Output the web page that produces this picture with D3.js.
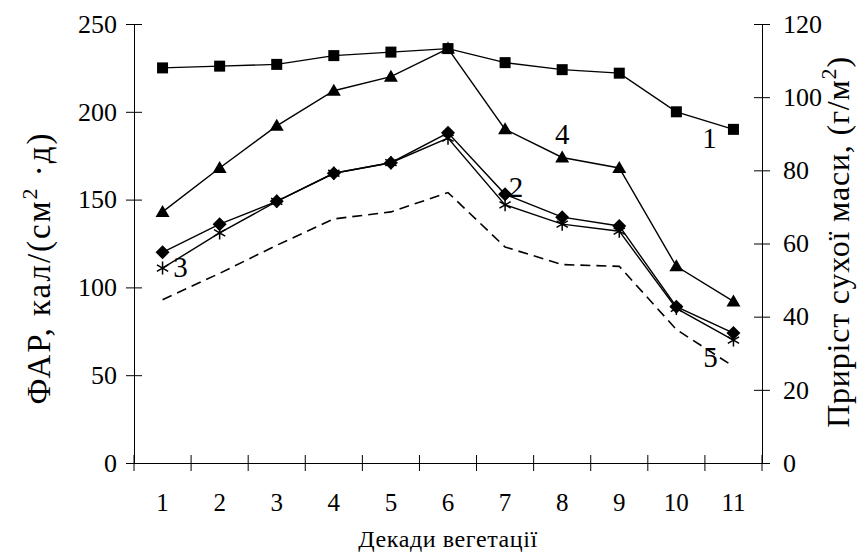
<!DOCTYPE html>
<html>
<head>
<meta charset="utf-8">
<script src="https://cdn.jsdelivr.net/npm/d3@7"></script>
<style>
  body { margin: 0; background: #fff; }
  svg { display: block; }
  svg text { font-family: "Liberation Serif", Tinos, "Times New Roman", Times, "DejaVu Serif", serif !important; fill: #000; }
</style>
</head>
<body>
<svg id="chart" width="858" height="553"></svg>
<script>
const categories = ["1","2","3","4","5","6","7","8","9","10","11"];
const leftTicks = [0, 50, 100, 150, 200, 250];
const rightTicks = [0, 20, 40, 60, 80, 100, 120];

const series1 = [225, 226, 227, 232, 234, 236, 228, 224, 222, 200, 190];   // squares
const series2 = [120, 136, 149, 165, 171, 188, 153, 140, 135, 89, 74];     // diamonds
const series3 = [111, 131, 149, 165, 171, 185, 147, 136, 132, 88, 70];     // asterisks
const series4 = [143, 168, 192, 212, 220, 236, 190, 174, 168, 112, 92];    // triangles
const series5 = [93, 108, 124, 139, 143, 154, 123, 113, 112, 76, 55];      // dashed

const svg = d3.select("#chart");
const mLeft = 134, mRight = 762, mTop = 24, mBottom = 463;
const FONT = "Liberation Serif, Times New Roman, serif";

const x = d3.scaleBand().domain(categories).range([mLeft, mRight]).padding(0);
const yL = d3.scaleLinear().domain([0, 250]).range([mBottom, mTop]);
const yR = d3.scaleLinear().domain([0, 120]).range([mBottom, mTop]);

const axisColor = "#000";

function styleAxis(g, fs) {
  g.attr("font-family", FONT).attr("font-size", fs);
  g.select(".domain").attr("stroke", axisColor);
  g.selectAll(".tick text").attr("font-size", fs).attr("fill", "#000");
}

// left axis
const gL = svg.append("g").attr("transform", `translate(${mLeft},0)`);
gL.call(d3.axisLeft(yL).tickValues(leftTicks).tickSize(0).tickPadding(17));
styleAxis(gL, 26);
gL.selectAll(".tick").append("line").attr("x1", -8).attr("x2", 8).attr("stroke", axisColor);

// right axis
const gR = svg.append("g").attr("transform", `translate(${mRight},0)`);
gR.call(d3.axisRight(yR).tickValues(rightTicks).tickSize(0).tickPadding(21));
styleAxis(gR, 26);
gR.selectAll(".tick").append("line").attr("x1", -8).attr("x2", 8).attr("stroke", axisColor);

// bottom axis
const gB = svg.append("g").attr("transform", `translate(0,${mBottom})`);
gB.call(d3.axisBottom(x).tickSize(0).tickPadding(30));
styleAxis(gB, 25);
const bounds = [mLeft].concat(categories.map(c => x(c) + x.bandwidth()));
gB.selectAll(".btick").data(bounds).enter().append("line")
  .attr("x1", d => d).attr("x2", d => d).attr("y1", -8).attr("y2", 8).attr("stroke", axisColor);

// Lines
const cx = i => x(categories[i]) + x.bandwidth() / 2;
const line = d3.line().x((d, i) => cx(i)).y(d => yL(d));
const plot = svg.append("g");

plot.append("path").datum(series5).attr("d", line).attr("fill", "none")
  .attr("stroke", "#000").attr("stroke-width", 1.6).attr("stroke-dasharray", "10,6");

[series1, series2, series3, series4].forEach(s => {
  plot.append("path").datum(s).attr("d", line).attr("fill", "none")
    .attr("stroke", "#000").attr("stroke-width", 1.4);
});

// squares
plot.selectAll(".sq").data(series1).enter().append("rect")
  .attr("x", (d, i) => cx(i) - 5.5).attr("y", d => yL(d) - 5.5)
  .attr("width", 11).attr("height", 11).attr("fill", "#000");

// diamonds
plot.selectAll(".dm").data(series2).enter().append("path")
  .attr("d", (d, i) => { const X = cx(i), Y = yL(d), r = 7; return `M${X},${Y-r}L${X+r},${Y}L${X},${Y+r}L${X-r},${Y}Z`; })
  .attr("fill", "#000");

// asterisks
plot.selectAll(".as").data(series3).enter().append("path")
  .attr("d", (d, i) => { const X = cx(i), Y = yL(d), r = 6.5;
    const a = r * 0.866, b = r * 0.5;
    return `M${X},${Y-r}L${X},${Y+r}M${X-a},${Y-b}L${X+a},${Y+b}M${X-a},${Y+b}L${X+a},${Y-b}`; })
  .attr("stroke", "#000").attr("stroke-width", 1.5).attr("fill", "none");

// triangles
plot.selectAll(".tr").data(series4).enter().append("path")
  .attr("d", (d, i) => { const X = cx(i), Y = yL(d); return `M${X},${Y-7}L${X+7},${Y+5}L${X-7},${Y+5}Z`; })
  .attr("fill", "#000");

// series labels
const lab = (t, xx, yy) => svg.append("text").attr("x", xx).attr("y", yy)
  .attr("font-family", FONT).attr("font-size", 29).attr("text-anchor", "middle").text(t);
lab("1", cx(10) - 24, yL(series1[10]) + 19);
lab("4", cx(7), yL(series4[7]) - 13);
lab("2", cx(6) + 11, yL(series2[6]) + 3);
lab("3", cx(0) + 18, yL(series3[0]) + 9);
lab("5", cx(10) - 23, yL(series5[10]) + 1);

// axis titles
const lt = svg.append("text").attr("transform", "translate(50,268) rotate(-90)")
  .attr("font-family", FONT).attr("text-anchor", "middle").attr("font-size", 33)
  .attr("letter-spacing", 2);
lt.append("tspan").text("ФАР, кал/(см");
lt.append("tspan").attr("dy", -13).attr("font-size", 22).text("2");
lt.append("tspan").attr("dy", 13).text(" ·д)");

const rt = svg.append("text").attr("transform", "translate(849,242) rotate(-90)")
  .attr("font-family", FONT).attr("text-anchor", "middle").attr("font-size", 32)
  .attr("letter-spacing", 0.8);
rt.append("tspan").text("Приріст сухої маси, (г/м");
rt.append("tspan").attr("dy", -13).attr("font-size", 22).text("2");
rt.append("tspan").attr("dy", 13).text(")");

svg.append("text").attr("x", 448).attr("y", 547).attr("text-anchor", "middle")
  .attr("font-family", FONT).attr("font-size", 24).attr("letter-spacing", 0.6)
  .text("Декади вегетації");
</script>
</body>
</html>
